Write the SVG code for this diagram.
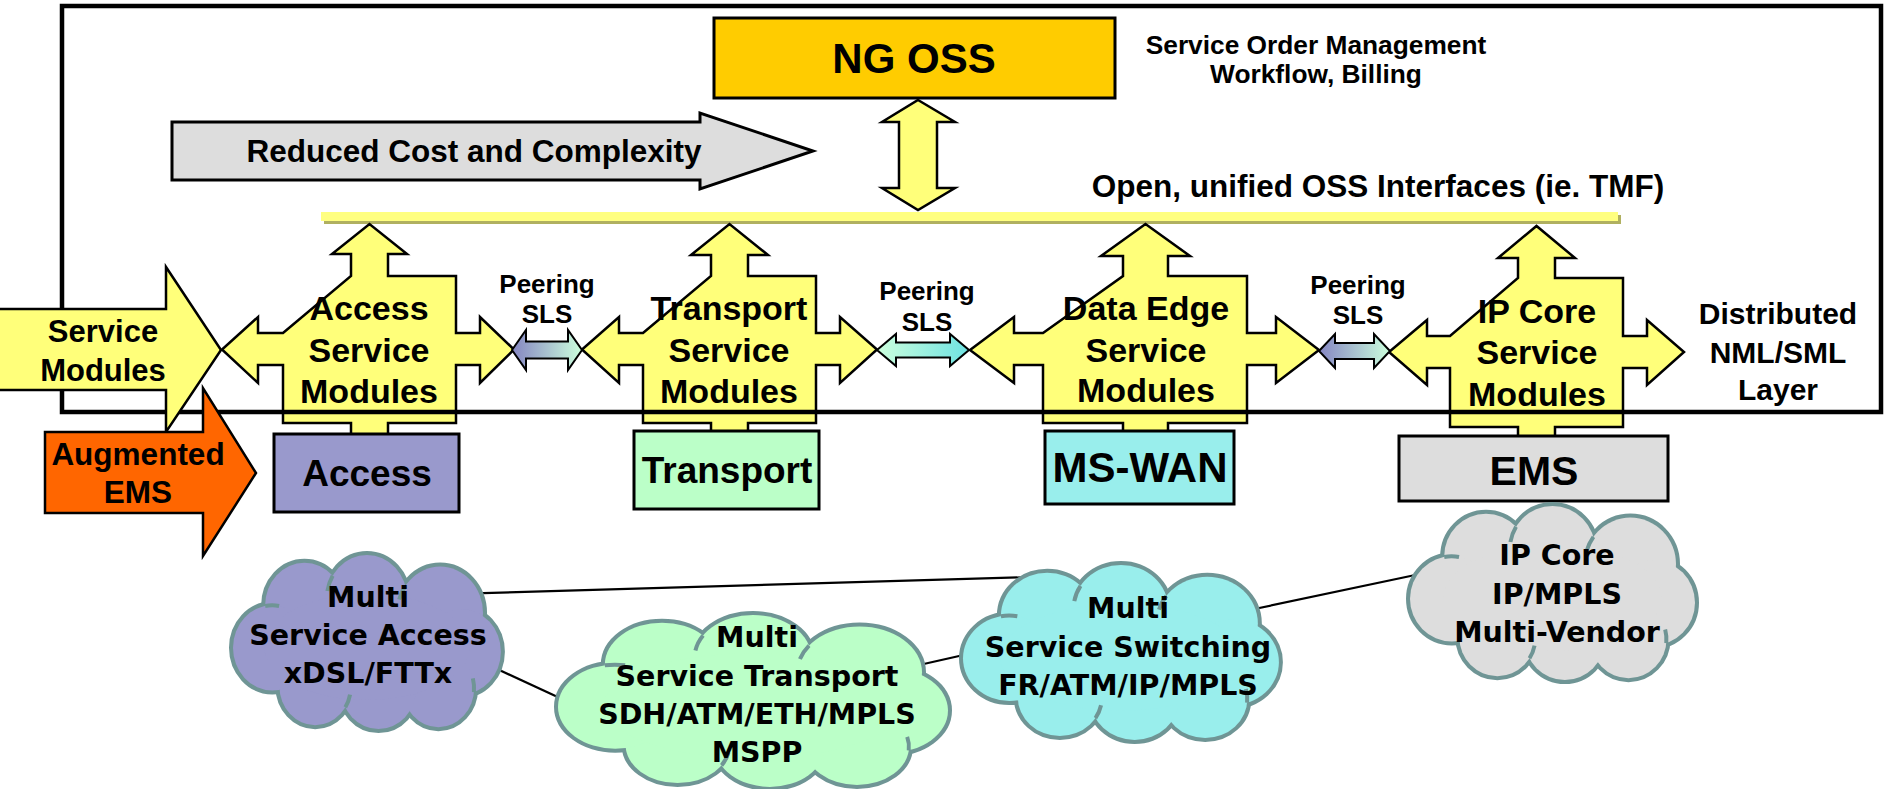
<svg xmlns="http://www.w3.org/2000/svg" xmlns:xlink="http://www.w3.org/1999/xlink" width="1886" height="789" viewBox="0 0 1886 789">
<style>
text{font-family:"Liberation Sans",Arial,sans-serif;font-weight:bold;fill:#000;text-anchor:middle}
.ct{font-family:"DejaVu Sans",sans-serif;font-size:28.5px}
.mod{fill:#FFFF7A;stroke:#000;stroke-width:2.5;stroke-linejoin:miter}
.mt{font-size:34px}
.box{stroke:#000;stroke-width:3}
.pe{stroke:#000;stroke-width:2}
.pt{font-size:26px}
.conn line{stroke:#000;stroke-width:2.2}
</style>
<defs>
<linearGradient id="g1" x1="0" y1="0" x2="1" y2="0"><stop offset="0" stop-color="#8585C2"/><stop offset="1" stop-color="#CCFFDD"/></linearGradient>
<linearGradient id="g2" x1="0" y1="0" x2="1" y2="0"><stop offset="0" stop-color="#CCFFDD"/><stop offset="1" stop-color="#6EE2E2"/></linearGradient>
<g id="cloudShape">
<circle cx="80" cy="52" r="44" vector-effect="non-scaling-stroke"/>
<circle cx="150" cy="45" r="45" vector-effect="non-scaling-stroke"/>
<circle cx="232" cy="60" r="48" vector-effect="non-scaling-stroke"/>
<circle cx="256" cy="100" r="44" vector-effect="non-scaling-stroke"/>
<circle cx="230" cy="138" r="40" vector-effect="non-scaling-stroke"/>
<circle cx="163" cy="138" r="42" vector-effect="non-scaling-stroke"/>
<circle cx="92" cy="136" r="40" vector-effect="non-scaling-stroke"/>
<circle cx="44" cy="96" r="44" vector-effect="non-scaling-stroke"/>
</g>
<g id="cloudCore">
<use xlink:href="#cloudShape"/>
<ellipse cx="150" cy="95" rx="115" ry="55"/>
</g>
<g id="cloudHints" fill="none">
<path d="M36 52.7 A44 44 0 0 1 51.6 52.7" vector-effect="non-scaling-stroke"/>
<path d="M193.1 32 A48 48 0 0 0 186.1 46" vector-effect="non-scaling-stroke"/>
<path d="M269.8 141.8 A40 40 0 0 0 268.6 127.6" vector-effect="non-scaling-stroke"/>
<path d="M125.8 157.5 A40 40 0 0 0 131.1 144.3" vector-effect="non-scaling-stroke"/>
<path d="M111.6 21.4 A45 45 0 0 0 105.7 37.2" vector-effect="non-scaling-stroke"/>
</g>
</defs>
<rect width="1886" height="789" fill="#fff"/>

<g id="oss-bar">
<rect x="324" y="215" width="1297" height="9" fill="#B0B060"/>
<rect x="321" y="212" width="1297" height="9" fill="#FFFF80"/>
<text x="1378" y="197" font-size="31.5">Open, unified OSS Interfaces (ie. TMF)</text>
</g>

<g id="reduced-cost">
<polygon points="172,122 700,122 700,113 813,151 700,189 700,180 172,180" fill="#DDDDDD" stroke="#000" stroke-width="3"/>
<text x="474" y="162" font-size="31.5">Reduced Cost and Complexity</text>
</g>

<g id="ng-oss">
<rect x="714" y="18" width="401" height="80" fill="#FFCC00" stroke="#000" stroke-width="3"/>
<text x="914" y="73" font-size="42">NG OSS</text>
<text x="1316" y="54" font-size="26.3">Service Order Management</text>
<text x="1316" y="83" font-size="26.3">Workflow, Billing</text>
</g>

<g id="oss-link">
<polygon points="918,100 955,122 937,122 937,188 955,188 918,210 882,188 899,188 899,122 882,122" fill="#FFFF7A" stroke="#000" stroke-width="2.5"/>
</g>

<g id="access-module">
<path class="mod" d="M351 276 L351 254 L332 254 L369.5 224 L407 254 L388 254 L388 276 L456 276 L456 333 L480 333 L480 317 L514 349.5 L480 383 L480 365 L456 365 L456 423 L388 423 L388 436 L351 436 L351 423 L283 423 L283 365 L258 365 L258 383 L222 349.5 L258 317 L258 333 L283 333 Z"/>
<text class="mt" x="369" y="320">Access</text>
<text class="mt" x="369" y="362">Service</text>
<text class="mt" x="369" y="403">Modules</text>
</g>

<g id="transport-module">
<path class="mod" d="M711 276 L711 255 L691 255 L729.5 224 L768 255 L748 255 L748 276 L816 276 L816 333 L840 333 L840 317 L877 349.5 L840 383 L840 365 L816 365 L816 423 L748 423 L748 433 L711 433 L711 423 L643 423 L643 365 L619 365 L619 383 L582 349.5 L619 317 L619 333 L643 333 Z"/>
<text class="mt" x="729" y="320">Transport</text>
<text class="mt" x="729" y="362">Service</text>
<text class="mt" x="729" y="403">Modules</text>
</g>

<g id="dataedge-module">
<path class="mod" d="M1123 276 L1123 256 L1101 256 L1145.5 224 L1190 256 L1168 256 L1168 276 L1247 276 L1247 333 L1276 333 L1276 317 L1319 350 L1276 383 L1276 365 L1247 365 L1247 423 L1168 423 L1168 433 L1123 433 L1123 423 L1043 423 L1043 365 L1014 365 L1014 383 L970 350 L1014 317 L1014 333 L1043 333 Z"/>
<text class="mt" x="1146" y="320">Data Edge</text>
<text class="mt" x="1146" y="362">Service</text>
<text class="mt" x="1146" y="402">Modules</text>
</g>

<g id="ipcore-module">
<path class="mod" d="M1518 278 L1518 258 L1498 258 L1536.5 226 L1575 258 L1555 258 L1555 278 L1623 278 L1623 336 L1647 336 L1647 320 L1684 352 L1647 385 L1647 368 L1623 368 L1623 427 L1555 427 L1555 438 L1518 438 L1518 427 L1450 427 L1450 368 L1427 368 L1427 385 L1389 352 L1427 320 L1427 336 L1450 336 Z"/>
<text class="mt" x="1537" y="323">IP Core</text>
<text class="mt" x="1537" y="364">Service</text>
<text class="mt" x="1537" y="406">Modules</text>
</g>

<g id="peering-1">
<path class="pe" fill="url(#g1)" d="M512 350 L526 330 L526 341.5 L568 341.5 L568 330 L582 350 L568 370 L568 358.5 L526 358.5 L526 370 Z"/>
<text class="pt" x="547" y="293">Peering</text>
<text class="pt" x="547" y="323">SLS</text>
</g>
<g id="peering-2">
<path class="pe" fill="url(#g2)" d="M877 350 L896 334 L896 342.5 L950 342.5 L950 334 L969 350 L950 366 L950 357.5 L896 357.5 L896 366 Z"/>
<text class="pt" x="927" y="300">Peering</text>
<text class="pt" x="927" y="331">SLS</text>
</g>
<g id="peering-3">
<path class="pe" fill="url(#g1)" d="M1319 351 L1335 334 L1335 343 L1374 343 L1374 334 L1390 351 L1374 368 L1374 359 L1335 359 L1335 368 Z"/>
<text class="pt" x="1358" y="294">Peering</text>
<text class="pt" x="1358" y="324">SLS</text>
</g>

<g id="frame">
<rect x="62" y="6" width="1819" height="406" fill="none" stroke="#000" stroke-width="4.5"/>
<text x="1778" y="324" font-size="30">Distributed</text>
<text x="1778" y="363" font-size="30">NML/SML</text>
<text x="1778" y="400" font-size="30">Layer</text>
</g>

<g id="service-modules">
<polygon points="-5,309 166,309 166,267 221,350 166,432 166,390 -5,390" fill="#FFFF7A" stroke="#000" stroke-width="2.5"/>
<text x="103" y="342" font-size="31">Service</text>
<text x="103" y="381" font-size="31">Modules</text>
</g>

<g id="augmented-ems">
<polygon points="45,432 203,432 203,388 256,473 203,556 203,513 45,513" fill="#FF6600" stroke="#000" stroke-width="2.5"/>
<text x="138" y="465" font-size="31.5">Augmented</text>
<text x="138" y="503" font-size="31.5">EMS</text>
</g>

<g id="access-box">
<rect class="box" x="274" y="434" width="185" height="78" fill="#9999CC"/>
<text x="367" y="486" font-size="37">Access</text>
</g>
<g id="transport-box">
<rect class="box" x="634" y="431" width="185" height="78" fill="#BBFFC8"/>
<text x="727" y="483" font-size="37">Transport</text>
</g>
<g id="mswan-box">
<rect class="box" x="1045" y="431" width="189" height="73" fill="#99EEEC"/>
<text x="1140" y="482" font-size="42">MS-WAN</text>
</g>
<g id="ems-box">
<rect class="box" x="1399" y="436" width="269" height="65" fill="#DDDDDD"/>
<text x="1534" y="485" font-size="41">EMS</text>
</g>

<g id="connectors" class="conn">
<line x1="474" y1="593.4" x2="1034" y2="577"/>
<line x1="495" y1="668" x2="562" y2="699"/>
<line x1="917" y1="665.5" x2="968" y2="654"/>
<line x1="1252" y1="609.5" x2="1420" y2="574"/>
</g>

<g id="cloud-access">
<g transform="translate(233,555) scale(0.893,0.967)">
<use xlink:href="#cloudShape" fill="none" stroke="#6F9595" stroke-width="8"/>
<use xlink:href="#cloudCore" fill="#9999CC"/>
<use xlink:href="#cloudHints" stroke="#6F9595" stroke-width="4"/>
</g>
<text class="ct" x="368" y="607">Multi</text>
<text class="ct" x="368" y="645">Service Access</text>
<text class="ct" x="368" y="683">xDSL/FTTx</text>
</g>

<g id="cloud-transport">
<g transform="translate(558,615) scale(1.3,0.955)">
<use xlink:href="#cloudShape" fill="none" stroke="#6F9595" stroke-width="8"/>
<use xlink:href="#cloudCore" fill="#BBFFC8"/>
<use xlink:href="#cloudHints" stroke="#6F9595" stroke-width="4"/>
</g>
<text class="ct" x="757" y="647">Multi</text>
<text class="ct" x="757" y="686">Service Transport</text>
<text class="ct" x="757" y="724">SDH/ATM/ETH/MPLS</text>
<text class="ct" x="757" y="762">MSPP</text>
</g>

<g id="cloud-switching">
<g transform="translate(963,565) scale(1.053,0.972)">
<use xlink:href="#cloudShape" fill="none" stroke="#6F9595" stroke-width="8"/>
<use xlink:href="#cloudCore" fill="#99EEEC"/>
<use xlink:href="#cloudHints" stroke="#6F9595" stroke-width="4"/>
</g>
<text class="ct" x="1128" y="618">Multi</text>
<text class="ct" x="1128" y="657">Service Switching</text>
<text class="ct" x="1128" y="695">FR/ATM/IP/MPLS</text>
</g>

<g id="cloud-ipcore">
<g transform="translate(1410,506) scale(0.95,0.967)">
<use xlink:href="#cloudShape" fill="none" stroke="#6F9595" stroke-width="8"/>
<use xlink:href="#cloudCore" fill="#DDDDDD"/>
<use xlink:href="#cloudHints" stroke="#6F9595" stroke-width="4"/>
</g>
<text class="ct" x="1557" y="565">IP Core</text>
<text class="ct" x="1557" y="604">IP/MPLS</text>
<text class="ct" x="1557" y="642">Multi-Vendor</text>
</g>
</svg>
